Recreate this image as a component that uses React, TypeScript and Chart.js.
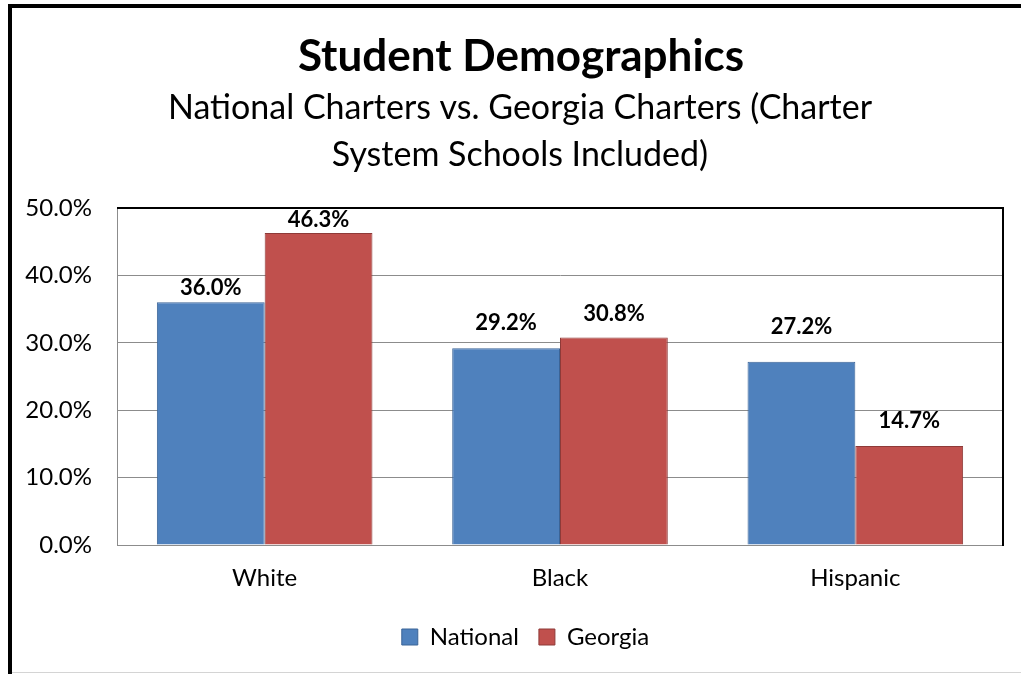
import React, { useEffect, useRef } from "react";
import { Chart, registerables } from "chart.js";

Chart.register(...registerables);

const categories = ["White", "Black", "Hispanic"];
const seriesNames = ["National", "Georgia"];
const nationalValues = [36.0, 29.2, 27.2];
const georgiaValues = [46.3, 30.8, 14.7];
const yTicks = [0, 10, 20, 30, 40, 50];
const titleText = "Student Demographics";
const subtitleLines = ["National Charters vs. Georgia Charters (Charter", "System Schools Included)"];

// style: vertical lift (px) of each value label above its bar
const labelLift = [
  [14, 25, 35],
  [13, 24, 25],
];

const FONT = "Lato, 'Open Sans', sans-serif";
const W = 1021;
const H = 674;
const LEGEND_SHIFT = 24;

const decorPlugin = {
  id: "decor",
  afterLayout(chart: any) {
    if (chart.legend) {
      chart.legend.left += LEGEND_SHIFT;
      chart.legend.right += LEGEND_SHIFT;
    }
  },
  beforeDraw(chart: any) {
    const ctx = chart.ctx;
    ctx.save();
    ctx.fillStyle = "#ffffff";
    ctx.fillRect(0, 0, W, H);
    ctx.fillStyle = "#000000";
    ctx.fillRect(8, 4, 4, H - 4);
    ctx.fillRect(8, 4, W - 8, 4);
    ctx.fillStyle = "#d4d4d4";
    ctx.fillRect(12, 672, W - 12, 1);
    ctx.fillStyle = "#000000";
    ctx.textAlign = "center";
    ctx.textBaseline = "middle";
    ctx.font = `bold 44px ${FONT}`;
    ctx.fillText(titleText, 521, 57);
    ctx.font = `34px ${FONT}`;
    ctx.fillText(subtitleLines[0], 520, 108);
    ctx.fillText(subtitleLines[1], 520, 155);
    ctx.restore();
  },
  afterDatasetsDraw(chart: any) {
    const ctx = chart.ctx;
    const a = chart.chartArea;
    ctx.save();
    ctx.strokeStyle = "#000000";
    ctx.lineWidth = 2;
    ctx.beginPath();
    ctx.moveTo(a.left, a.top);
    ctx.lineTo(a.right, a.top);
    ctx.lineTo(a.right, a.bottom + 1);
    ctx.stroke();
    ctx.fillStyle = "#000000";
    ctx.font = `bold 22px ${FONT}`;
    ctx.textAlign = "center";
    ctx.textBaseline = "middle";
    chart.data.datasets.forEach((ds: any, i: number) => {
      const meta = chart.getDatasetMeta(i);
      meta.data.forEach((bar: any, j: number) => {
        const v = ds.data[j];
        ctx.fillText(v.toFixed(1) + "%", bar.x, bar.y - labelLift[i][j]);
      });
    });
    ctx.restore();
  },
};

export default function App() {
  const ref = useRef<HTMLCanvasElement>(null);
  useEffect(() => {
    if (!ref.current) return;
    const chart = new Chart(ref.current, {
      type: "bar",
      data: {
        labels: categories,
        datasets: [
          {
            label: seriesNames[0],
            data: nationalValues,
            backgroundColor: "#4F81BD",
            borderColor: "#3B6497",
            borderWidth: 1,
            categoryPercentage: 0.73,
            barPercentage: 1.0,
          },
          {
            label: seriesNames[1],
            data: georgiaValues,
            backgroundColor: "#C0504D",
            borderColor: "#8E3A38",
            borderWidth: 1,
            categoryPercentage: 0.73,
            barPercentage: 1.0,
          },
        ],
      },
      options: {
        animation: false,
        responsive: false,
        devicePixelRatio: 1,
        layout: { padding: { top: 208, right: 18, left: 0, bottom: 15 } },
        plugins: {
          legend: {
            position: "bottom",
            labels: {
              color: "#000",
              font: { family: FONT, size: 24 },
              boxWidth: 16,
              boxHeight: 16,
              padding: 20,
            },
          },
          title: { display: false },
          tooltip: { enabled: false },
        },
        scales: {
          x: {
            grid: { display: false },
            border: { color: "#8c8c8c", width: 1 },
            ticks: { color: "#000", font: { family: FONT, size: 24 }, padding: 11 },
            afterFit(scale: any) {
              scale.height = 60;
            },
          },
          y: {
            min: 0,
            max: 50,
            afterBuildTicks(scale: any) {
              scale.ticks = yTicks.map((v) => ({ value: v }));
            },
            grid: { color: "#8c8c8c", lineWidth: 1, drawTicks: false },
            border: { color: "#8c8c8c", width: 1 },
            ticks: {
              color: "#000",
              font: { family: FONT, size: 24 },
              padding: 25,
              callback: (v: any) => Number(v).toFixed(1) + "%",
            },
            afterFit(scale: any) {
              scale.width = 117;
            },
          },
        },
      },
      plugins: [decorPlugin],
    });
    return () => chart.destroy();
  }, []);
  return (
    <div style={{ position: "absolute", left: 0, top: 0, width: W, height: H }}>
      <canvas ref={ref} width={W} height={H} style={{ display: "block" }} />
    </div>
  );
}
